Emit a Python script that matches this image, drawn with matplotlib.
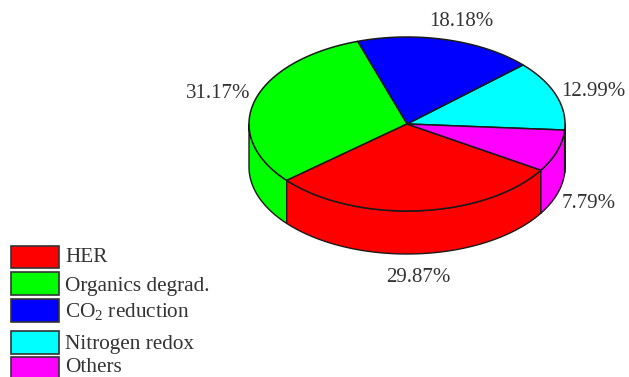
import numpy as np
import matplotlib
matplotlib.use('Agg')
import matplotlib.pyplot as plt
from matplotlib.patches import Polygon, Rectangle

plt.rcParams['font.family'] = ['Liberation Serif', 'DejaVu Serif']
plt.rcParams['mathtext.fontset'] = 'custom'
plt.rcParams['mathtext.rm'] = 'Liberation Serif'
plt.rcParams['mathtext.default'] = 'rm'

# Slices in legend order
categories = ['HER', 'Organics degrad.', r'CO$_2$ reduction', 'Nitrogen redox', 'Others']
shares = [29.87, 31.17, 18.18, 12.99, 7.79]
colors = ['#ff0000', '#00ff00', '#0000ff', '#00ffff', '#ff00ff']

# Pie geometry in pixels
cx, cy = 407, 124
rx, ry = 158, 87
depth = 43
start_angle = -4
edge = '#1a1a1a'

fig = plt.figure(figsize=(6.29, 3.77), dpi=100)
ax = fig.add_axes([0, 0, 1, 1])
ax.set_xlim(0, 629)
ax.set_ylim(377, 0)
ax.axis('off')


def rim(a0, a1, dy=0):
    t = np.radians(np.linspace(a0, a1, 120))
    return np.column_stack([cx + rx * np.cos(t), cy + dy - ry * np.sin(t)])


# Go counter-clockwise from the Nitrogen redox slice, ending on HER
order = [3, 2, 1, 0, 4]
spans = {}
a = start_angle
for i in order:
    sweep = shares[i] / sum(shares) * 360
    spans[i] = (a, a + sweep)
    a += sweep

# Side wall, only the part of each slice facing the viewer (180..360 deg)
for i in order:
    a0, a1 = spans[i]
    for lo, hi in [(a0, a1), (a0 + 360, a1 + 360)]:
        lo, hi = max(lo, 180), min(hi, 360)
        if hi <= lo:
            continue
        top = rim(lo, hi)
        bottom = rim(lo, hi, depth)[::-1]
        ax.add_patch(Polygon(np.vstack([top, bottom]), closed=True, fc=colors[i],
                             ec=edge, lw=1.0, joinstyle='round', zorder=1))

# Top face
for i in order:
    a0, a1 = spans[i]
    pts = np.vstack([[cx, cy], rim(a0, a1)])
    ax.add_patch(Polygon(pts, closed=True, fc=colors[i], ec=edge, lw=1.1,
                         joinstyle='round', zorder=2))

# Percentage labels
label_pos = {0: (418, 277), 1: (218, 94), 2: (461, 22), 3: (593, 91), 4: (589, 204)}
for i, pos in label_pos.items():
    ax.text(pos[0], pos[1], f'{shares[i]:.2f}%', fontsize=15, color='#333333',
            ha='center', va='center')

# Legend boxes
box_y = [246, 272, 299, 331, 357]
box_h = [22, 23, 23, 23, 24]
text_y = [258, 286, 312, 344, 367.5]
for i, name in enumerate(categories):
    ax.add_patch(Rectangle((11, box_y[i]), 48, box_h[i], fc=colors[i], ec='#333333', lw=1.2))
    ax.text(65, text_y[i], name, fontsize=15.3, color='#333333', ha='left', va='center')

fig.savefig('out.png', dpi=100)
